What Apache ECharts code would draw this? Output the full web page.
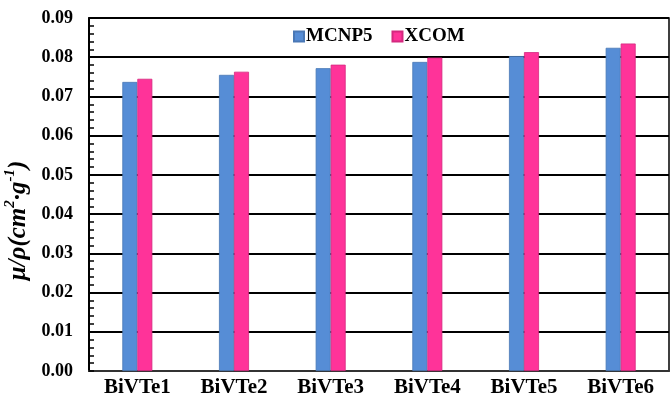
<!DOCTYPE html>
<html>
<head>
<meta charset="utf-8">
<script src="https://cdn.jsdelivr.net/npm/echarts@6/dist/echarts.min.js"></script>
<style>
  html, body { margin: 0; padding: 0; background: #fff; }
  #chart { width: 670px; height: 398px; }
</style>
</head>
<body>
<div id="chart"></div>
<script>
// Mass attenuation coefficients of the BiVTe glass samples
const categories = ['BiVTe1', 'BiVTe2', 'BiVTe3', 'BiVTe4', 'BiVTe5', 'BiVTe6'];
const mcnp5 = [0.0737, 0.0755, 0.0772, 0.0788, 0.0803, 0.0824];
const xcom  = [0.0745, 0.0763, 0.0781, 0.0799, 0.0813, 0.0835];
const seriesNames = ['MCNP5', 'XCOM'];

const serif = 'Liberation Serif';
const legendText = { fontFamily: serif, fontWeight: 'bold', fontSize: 19, color: '#000' };

const chart = echarts.init(document.getElementById('chart'));
chart.setOption({
  animation: false,
  backgroundColor: '#fff',
  textStyle: { fontFamily: serif },
  grid: {
    left: 89, right: 1, top: 18, bottom: 27,
    outerBoundsMode: 'none',
    containLabel: false,
    show: true, borderColor: '#000', borderWidth: 1.5, backgroundColor: 'transparent'
  },
  legend: {
    top: 22, left: 288,
    itemWidth: 10, itemHeight: 10, itemGap: 19,
    textStyle: Object.assign({ padding: [0, 0, 0, -3] }, legendText),
    data: seriesNames.map(n => ({ name: n, icon: 'rect', textStyle: legendText }))
  },
  xAxis: {
    type: 'category',
    data: categories,
    axisLine: { lineStyle: { color: '#333', width: 2 } },
    axisTick: { show: false },
    axisLabel: { fontFamily: serif, fontWeight: 'bold', fontSize: 21, color: '#000', margin: 6 }
  },
  yAxis: {
    type: 'value',
    min: 0, max: 0.09, interval: 0.01,
    name: '{a|μ/ρ(cm}{s|2}{a|·g}{s|-1}{a|)}',
    nameLocation: 'middle',
    nameRotate: 90,
    nameGap: 48,
    nameTextStyle: {
      padding: [0, 52, 0, 0],
      rich: {
        a: { fontFamily: serif, fontWeight: 'bold', fontStyle: 'italic', fontSize: 25, color: '#000', lineHeight: 28, verticalAlign: 'bottom' },
        s: { fontFamily: serif, fontWeight: 'bold', fontStyle: 'italic', fontSize: 15, color: '#000', lineHeight: 28, verticalAlign: 'top' }
      }
    },
    axisLine: { show: true, lineStyle: { color: '#000', width: 2 } },
    axisTick: { show: true, inside: true, length: 5, lineStyle: { color: '#000', width: 1.5 } },
    minorTick: { show: true, splitNumber: 5, length: 5, lineStyle: { color: '#000', width: 1.5 } },
    splitLine: { lineStyle: { color: '#000', width: 2 } },
    axisLabel: {
      fontFamily: serif, fontWeight: 'bold', fontSize: 18, color: '#000', margin: 16,
      formatter: v => v.toFixed(2)
    }
  },
  series: [
    {
      name: seriesNames[0], type: 'bar', data: mcnp5,
      barWidth: 15, barGap: '0%',
      itemStyle: { color: '#568DD6', borderColor: '#4A78B5', borderWidth: 0.8 }
    },
    {
      name: seriesNames[1], type: 'bar', data: xcom,
      barWidth: 15, barGap: '0%',
      itemStyle: { color: '#FF3399', borderColor: '#D4287F', borderWidth: 0.8 }
    }
  ]
});
</script>
</body>
</html>
